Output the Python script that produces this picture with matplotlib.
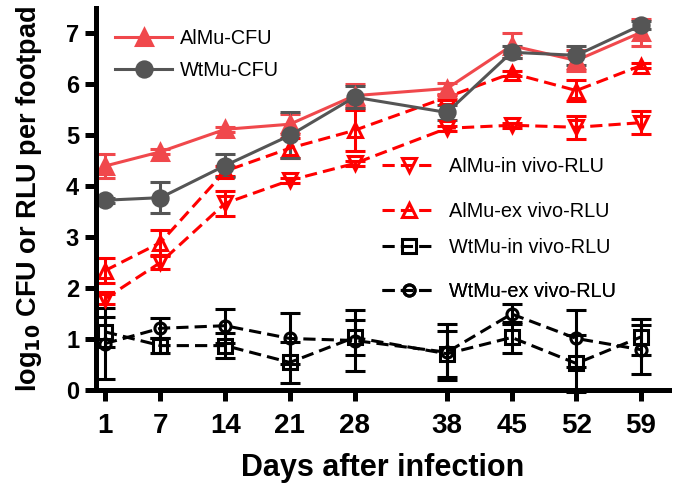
import matplotlib.pyplot as plt
from matplotlib.lines import Line2D

plt.rcParams['font.family'] = ['Liberation Sans', 'DejaVu Sans']
plt.rcParams['mathtext.default'] = 'bf'

days = [1, 7, 14, 21, 28, 38, 45, 52, 59]

almu_cfu = [4.4, 4.68, 5.12, 5.22, 5.78, 5.92, 6.76, 6.47, 7.02]
almu_cfu_err = [0.24, 0.05, 0.05, 0.2, 0.23, 0.1, 0.25, 0.2, 0.27]

wtmu_cfu = [3.73, 3.78, 4.41, 5.0, 5.75, 5.45, 6.63, 6.57, 7.16]
wtmu_cfu_err = [0.05, 0.3, 0.23, 0.45, 0.22, 0.15, 0.12, 0.18, 0.08]

almu_invivo = [1.8, 2.51, 3.67, 4.12, 4.45, 5.14, 5.2, 5.16, 5.25]
almu_invivo_err = [0.1, 0.12, 0.25, 0.05, 0.05, 0.05, 0.05, 0.23, 0.22]

almu_exvivo = [2.35, 2.9, 4.3, 4.75, 5.1, 5.75, 6.22, 5.88, 6.37]
almu_exvivo_err = [0.25, 0.25, 0.1, 0.2, 0.4, 0.05, 0.05, 0.2, 0.05]

wtmu_invivo = [1.15, 0.88, 0.88, 0.55, 1.04, 0.72, 1.04, 0.53, 1.05]
wtmu_invivo_err = [0.3, 0.15, 0.25, 0.4, 0.35, 0.45, 0.3, 0.55, 0.35]

wtmu_exvivo = [0.92, 1.22, 1.27, 1.02, 0.98, 0.75, 1.5, 1.02, 0.8]
wtmu_exvivo_err = [0.7, 0.2, 0.33, 0.5, 0.6, 0.55, 0.2, 0.55, 0.48]

red_light = '#f0484c'
red = '#ff0000'
grey = '#555555'

fig = plt.figure(figsize=(6.78, 4.88), dpi=100)
ax = fig.add_axes([0.1413, 0.1998, 0.845, 0.784])

dash = (0, (4, 2))
series = [
    (wtmu_invivo, wtmu_invivo_err, 'black', 's', dash, 'none', 10, 'WtMu-in vivo-RLU'),
    (wtmu_exvivo, wtmu_exvivo_err, 'black', 'o', dash, 'none', 8, 'WtMu-ex vivo-RLU'),
    (almu_invivo, almu_invivo_err, red, 'v', dash, 'none', 10, 'AlMu-in vivo-RLU'),
    (almu_exvivo, almu_exvivo_err, red, '^', dash, 'none', 10, 'AlMu-ex vivo-RLU'),
    (almu_cfu, almu_cfu_err, red_light, '^', '-', red_light, 11, 'AlMu-CFU'),
    (wtmu_cfu, wtmu_cfu_err, grey, 'o', '-', grey, 11, 'WtMu-CFU'),
]

handles = {}
for vals, err, col, mk, ls, fc, ms, lab in series:
    ax.errorbar(days, vals, yerr=err, color=col, ecolor=col, elinewidth=2.2,
                capsize=7, capthick=2.2, linestyle=ls, linewidth=2.2,
                marker=mk, markersize=ms, markerfacecolor=fc,
                markeredgecolor=col, markeredgewidth=2.2, clip_on=False)
    handles[lab] = Line2D([], [], color=col, linestyle=ls, linewidth=2.2,
                          marker=mk, markersize=ms, markerfacecolor=fc,
                          markeredgecolor=col, markeredgewidth=2.2)

# legend entries placed one by one, like in the original figure
legend_pos = [
    ('AlMu-CFU', 0.033, 0.92, 2.9, 0.4),
    ('WtMu-CFU', 0.033, 0.836, 2.9, 0.4),
    ('AlMu-in vivo-RLU', 0.50, 0.585, 2.7, 0.65),
    ('AlMu-ex vivo-RLU', 0.50, 0.467, 2.7, 0.65),
    ('WtMu-in vivo-RLU', 0.50, 0.375, 2.7, 0.65),
    ('WtMu-ex vivo-RLU', 0.50, 0.258, 2.7, 0.65),
]
for lab, lx, ly, hl, tp in legend_pos:
    leg = ax.legend([handles[lab]], [lab], loc='center left',
                    bbox_to_anchor=(lx, ly), frameon=False, fontsize=14.3,
                    handlelength=hl, handletextpad=tp, borderpad=0,
                    borderaxespad=0)
    ax.add_artist(leg)

ax.set_xlim(0, 62)
ax.set_ylim(0, 7.5)
ax.set_xticks(days)
ax.set_yticks(range(0, 8))

for s in ['top', 'right']:
    ax.spines[s].set_visible(False)
for s in ['left', 'bottom']:
    ax.spines[s].set_linewidth(3.6)

ax.tick_params(width=3.6, length=8, pad=4)
ax.tick_params(axis='x', labelsize=20, pad=8)
ax.tick_params(axis='y', labelsize=17)
for t in ax.get_xticklabels() + ax.get_yticklabels():
    t.set_fontweight('bold')

ax.set_xlabel('Days after infection', fontsize=22, fontweight='bold', labelpad=10)
ax.set_ylabel('log$_{10}$ CFU or RLU per footpad', fontsize=19.5,
              fontweight='bold', labelpad=16)

fig.savefig('out.png', dpi=100)
